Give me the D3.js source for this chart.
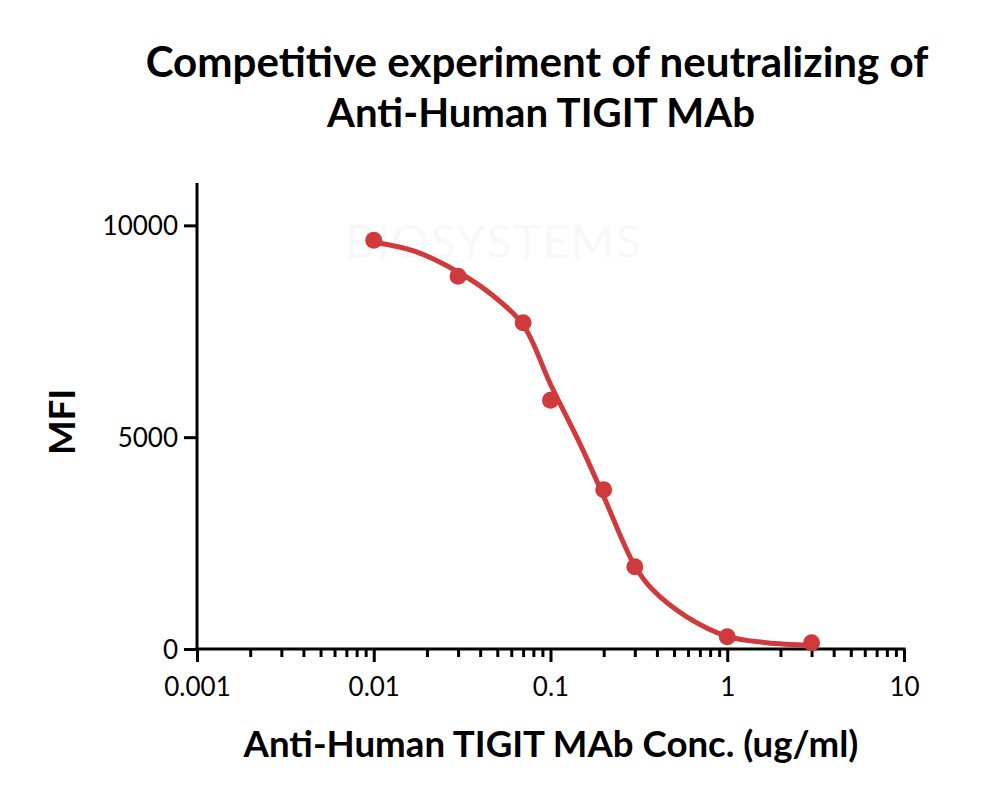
<!DOCTYPE html>
<html>
<head>
<meta charset="utf-8">
<script src="https://cdn.jsdelivr.net/npm/d3@7"></script>
<style>
  html, body { margin: 0; padding: 0; background: #ffffff; }
  svg { display: block; }
</style>
</head>
<body>
<svg id="chart" width="1000" height="796"></svg>
<script>
// ---- data ----
const titleLines = ["Competitive experiment of neutralizing of", "Anti-Human TIGIT MAb"];
const xTitle = "Anti-Human TIGIT MAb Conc. (ug/ml)";
const yTitle = "MFI";
const watermarkText = "BIOSYSTEMS";
const concentrations = [0.01, 0.03, 0.07, 0.1, 0.2, 0.3, 1, 3];
const mfiValues = [9646, 8800, 7700, 5870, 3760, 1940, 290, 150];
const curveConc = [0.01, 0.017, 0.03, 0.047, 0.07, 0.1, 0.15, 0.2, 0.3, 0.38, 0.59, 1.0, 1.67, 3.0];
const curveMfi  = [9600, 9390, 8900, 8350, 7650, 6250, 4760, 3600, 1960, 1390, 760, 300, 150, 90];
const xMajorTicks = [0.001, 0.01, 0.1, 1, 10];
const xTickLabels = ["0.001", "0.01", "0.1", "1", "10"];
const yTicks = [0, 5000, 10000];
const yTickLabels = ["0", "5000", "10000"];

// ---- layout ----
const svg = d3.select("#chart");
const mLeft = 197, mRight = 904, mTop = 183, mBottom = 649;
const x = d3.scaleLog().domain([0.001, 10]).range([mLeft, mRight]);
const y = d3.scaleLinear().domain([0, 11000]).range([mBottom, mTop]);
const red = "#d13a3c";
const fontFam = "Lato, 'Open Sans', sans-serif";

function fitText(sel, targetWidth) {
  const node = sel.node();
  const fs = parseFloat(sel.attr("font-size"));
  const w = node.getComputedTextLength();
  sel.attr("font-size", (fs * targetWidth / w).toFixed(2));
}

// ---- faint watermark ----
svg.append("text").attr("x", 345).attr("y", 258).attr("font-family", fontFam)
  .attr("font-size", 46).attr("letter-spacing", 2).attr("fill", "#f8f8f8").text(watermarkText);

// ---- title ----
const t1 = svg.append("text").attr("x", 537).attr("y", 77).attr("text-anchor", "middle")
  .attr("font-family", fontFam).attr("font-weight", 700).attr("font-size", 38).attr("fill", "#000")
  .text(titleLines[0]);
fitText(t1, 783);
const t2 = svg.append("text").attr("x", 541).attr("y", 127).attr("text-anchor", "middle")
  .attr("font-family", fontFam).attr("font-weight", 700).attr("font-size", 38).attr("fill", "#000")
  .text(titleLines[1]);
fitText(t2, 428);

// ---- axes ----
const minorTicks = [];
for (let e = -3; e < 1; e++) for (let m = 2; m <= 9; m++) minorTicks.push(+(m * Math.pow(10, e)).toPrecision(3));

const gxMinor = svg.append("g").attr("transform", `translate(0,${mBottom})`)
  .call(d3.axisBottom(x).tickValues(minorTicks).tickSize(8).tickFormat(""));
const gx = svg.append("g").attr("transform", `translate(0,${mBottom})`)
  .call(d3.axisBottom(x).tickValues(xMajorTicks).tickSize(13).tickPadding(16)
    .tickFormat((d, i) => xTickLabels[i]));
const gy = svg.append("g").attr("transform", `translate(${mLeft},0)`)
  .call(d3.axisLeft(y).tickValues(yTicks).tickSize(13).tickPadding(6)
    .tickFormat((d, i) => yTickLabels[i]));

[gxMinor, gx, gy].forEach(g => {
  g.select(".domain").attr("stroke", "#000").attr("stroke-width", 3);
  g.selectAll(".tick line").attr("stroke", "#000").attr("stroke-width", 3);
  g.selectAll(".tick text").attr("font-family", fontFam).attr("font-size", 26).attr("fill", "#000");
});
gxMinor.select(".domain").remove();
gx.select(".domain").attr("d", `M${mLeft - 1.5},0H${mRight + 1.5}`);
gy.select(".domain").attr("d", `M0,${mTop}V${mBottom + 1.5}`);
gy.selectAll(".tick text").attr("dy", "0.36em");

// ---- axis titles ----
const xt = svg.append("text").attr("x", 551).attr("y", 757).attr("text-anchor", "middle")
  .attr("font-family", fontFam).attr("font-weight", 700).attr("font-size", 30).attr("fill", "#000")
  .text(xTitle);
fitText(xt, 615);
svg.append("text").attr("transform", `translate(75,422) rotate(-90)`).attr("text-anchor", "middle")
  .attr("font-family", fontFam).attr("font-weight", 700).attr("font-size", xt.attr("font-size")).attr("fill", "#000")
  .text(yTitle);

// ---- curve ----
const curveData = curveConc.map((c, i) => [c, curveMfi[i]]);
svg.append("path").datum(curveData)
  .attr("fill", "none").attr("stroke", red).attr("stroke-width", 5).attr("stroke-linecap", "round")
  .attr("d", d3.line().x(d => x(d[0])).y(d => y(d[1])).curve(d3.curveCatmullRom.alpha(0.5)));

// ---- points ----
svg.append("g").selectAll("circle").data(concentrations.map((c, i) => [c, mfiValues[i]]))
  .join("circle")
  .attr("cx", d => x(d[0])).attr("cy", d => y(d[1])).attr("r", 8.5).attr("fill", red);
</script>
</body>
</html>
